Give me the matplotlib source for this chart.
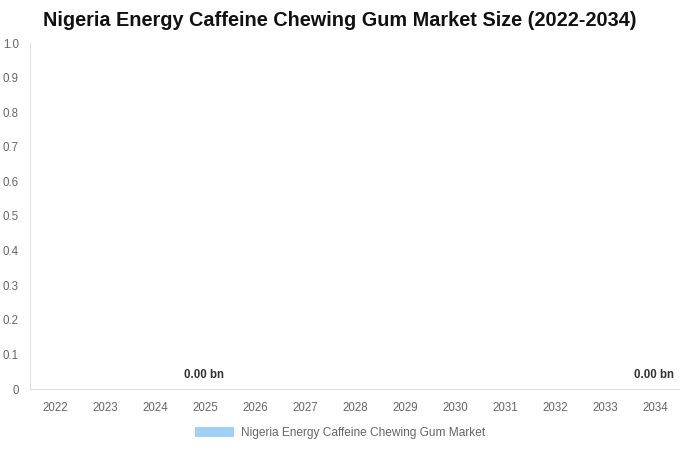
import matplotlib
matplotlib.use("Agg")
import matplotlib.pyplot as plt
from matplotlib.patches import Patch

years = ["2022", "2023", "2024", "2025", "2026", "2027", "2028",
         "2029", "2030", "2031", "2032", "2033", "2034"]
values = [0, 0, 0, 0, 0, 0, 0, 0, 0, 0, 0, 0, 0]
labeled_years = ["2025", "2034"]
series_name = "Nigeria Energy Caffeine Chewing Gum Market"
title = "Nigeria Energy Caffeine Chewing Gum Market Size (2022-2034)"
yticks = [0, 0.1, 0.2, 0.3, 0.4, 0.5, 0.6, 0.7, 0.8, 0.9, 1.0]
ytick_labels = ["0", "0.1", "0.2", "0.3", "0.4", "0.5", "0.6", "0.7", "0.8", "0.9", "1.0"]

plt.rcParams['font.family'] = ['Liberation Sans', 'DejaVu Sans']

fig = plt.figure(figsize=(6.8, 4.5), dpi=100)
ax = fig.add_axes([30/680, (450-389)/450, 650/680, (389-43)/450])

bar_color = "#a0cff8"
x = list(range(len(years)))
ax.bar(x, values, width=0.6, color=bar_color)
ax.set_xlim(-0.5, len(years) - 0.5)
ax.set_ylim(0, 1.0)
ax.set_yticks(yticks)
ax.set_yticklabels(ytick_labels)
ax.set_xticks(x)
ax.set_xticklabels(years)
ax.tick_params(axis='both', length=0, colors="#666666", labelsize=8.3)
ax.tick_params(axis='x', pad=9.5)
ax.tick_params(axis='y', pad=8)

for s in ["top", "right"]:
    ax.spines[s].set_visible(False)
ax.spines["left"].set_color("#e0e0e0")
ax.spines["bottom"].set_color("#e0e0e0")

for i, (yr, v) in enumerate(zip(years, values)):
    if yr in labeled_years:
        ax.annotate(f"{v:.2f} bn", xy=(i, v), xytext=(-0.5, 6), textcoords="offset points",
                    ha="center", va="bottom", fontsize=8.3, fontweight="bold", color="#333333")

fig.text(340/680, 1 - 21/450, title, ha="center", va="center",
         fontsize=14.3, fontweight="bold", color="#111111")

handles = [Patch(facecolor=bar_color, edgecolor="none", label=series_name)]
fig.legend(handles=handles, loc="center", bbox_to_anchor=(340/680, 1 - 433/450),
           frameon=False, fontsize=8.6, labelcolor="#666666",
           handlelength=3.3, handleheight=0.9, handletextpad=0.6)

fig.savefig("out.png", dpi=100)
